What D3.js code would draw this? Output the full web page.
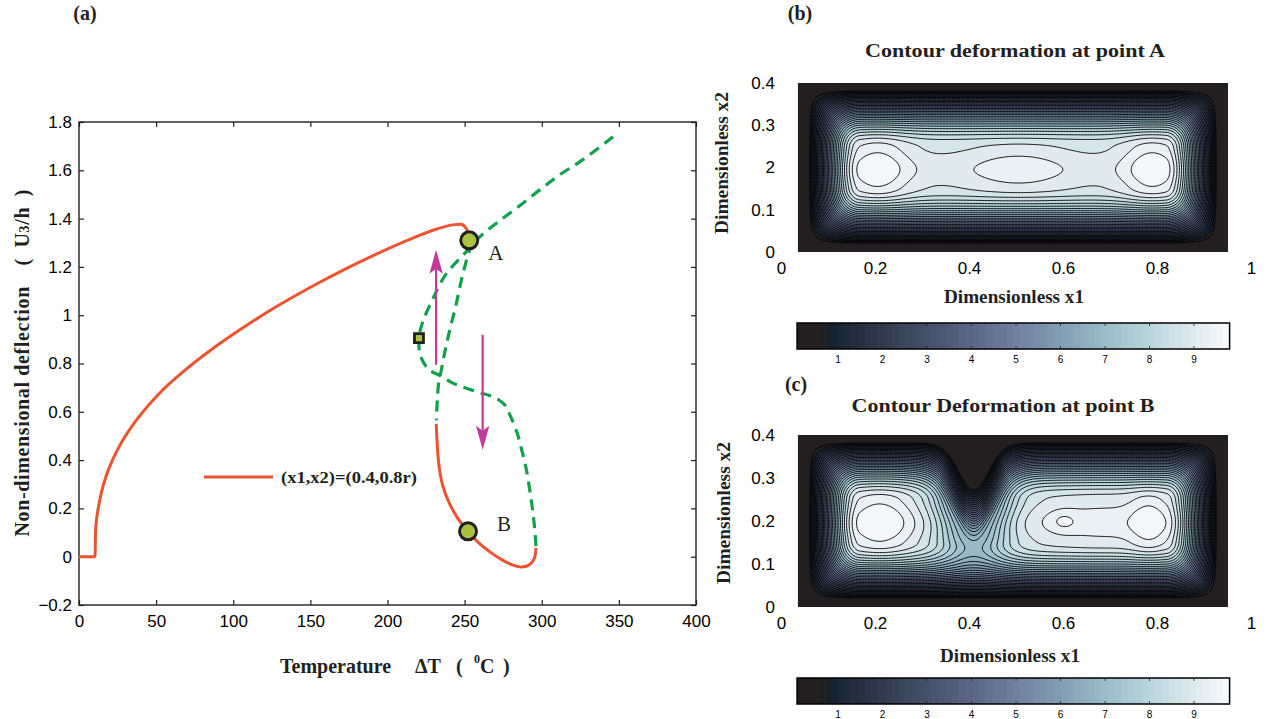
<!DOCTYPE html>
<html>
<head>
<meta charset="utf-8">
<script src="https://cdn.jsdelivr.net/npm/d3@7"></script>
<style>
  body { margin: 0; background: #fff; }
</style>
</head>
<body>
<svg id="fig" width="1269" height="719"></svg>
<script>
// ---------- data ----------

// panel (a) axes
var tempTicks = [0, 50, 100, 150, 200, 250, 300, 350, 400];
var deflTicks = [-0.2, 0, 0.2, 0.4, 0.6, 0.8, 1, 1.2, 1.4, 1.6, 1.8];
var deflTickText = ["\u22120.2", "0", "0.2", "0.4", "0.6", "0.8", "1", "1.2", "1.4", "1.6", "1.8"];

// stable branches [deltaT, U3/h]
var redUpper = [[0, 0], [10.4, 0], [10.7, 0.1], [11.4, 0.155], [12.6, 0.205], [14.5, 0.265],
  [17.5, 0.332], [21.5, 0.397], [26, 0.455], [36.7, 0.561], [51.9, 0.675], [69.2, 0.775],
  [86.4, 0.86], [108, 0.955], [129.7, 1.042], [151.3, 1.12], [172.9, 1.192], [194.5, 1.258],
  [216, 1.318], [232, 1.357], [242, 1.374], [247.5, 1.377], [251.2, 1.358], [253, 1.31]];
var redLower = [[231.6, 0.55], [232.4, 0.45], [233.5, 0.37], [236, 0.29], [240, 0.223],
  [245.5, 0.16], [252.2, 0.105], [259, 0.058], [266.4, 0.02], [274, -0.012], [281, -0.034],
  [287, -0.043], [292, -0.033], [295, -0.01], [296.3, 0.037]];

// unstable branches
var greenOuter = [[346.2, 1.739], [326.7, 1.644], [311.8, 1.582], [298.9, 1.52], [284, 1.445],
  [271, 1.383], [260, 1.325], [251, 1.262], [237.7, 1.168], [229.1, 1.064], [222.6, 0.968],
  [220.4, 0.905], [221.5, 0.83], [226.9, 0.774], [233.4, 0.752], [242, 0.72], [250.2, 0.7],
  [259.3, 0.68], [266, 0.668], [272, 0.65], [276.5, 0.625], [279.5, 0.585], [284, 0.513],
  [287.5, 0.43], [290.4, 0.348], [292.6, 0.26], [294.3, 0.182], [295.5, 0.11], [296.3, 0.041]];
var greenInner = [[255, 1.3], [252.8, 1.262], [248.5, 1.161], [244.2, 1.037], [239.9, 0.926],
  [236.6, 0.83], [234.5, 0.761], [233.4, 0.733], [232.3, 0.65], [231.7, 0.565]];

var pointA = [253, 1.31];
var pointB = [252.2, 0.105];
var limitPoint = [220.4, 0.905];
var arrowUp = [[231.5, 0.795], [231.5, 1.271]];
var arrowDown = [[261.7, 0.919], [261.7, 0.443]];

// panels (b) and (c)
var x1Ticks = [0, 0.2, 0.4, 0.6, 0.8, 1];
var x1TickText = ["0", "0.2", "0.4", "0.6", "0.8", "1"];
var x2Ticks = [0, 0.1, 0.2, 0.3, 0.4];
var x2TickTextB = ["0", "0.1", "2", "0.3", "0.4"];
var x2TickTextC = ["0", "0.1", "0.2", "0.3", "0.4"];
var fieldX = [0.036, 0.951];
var fieldY = [0, 0.4];
var levels = [0.5, 0.8, 1.1, 1.4, 1.7, 2.0, 2.3, 2.6, 2.9, 3.2, 3.5, 3.8, 4.1, 4.4, 4.7, 5.0,
  5.3, 5.6, 5.9, 6.2, 6.5, 6.8, 7.1, 7.4, 7.7, 8.0, 8.3, 8.6, 8.9, 9.2, 9.5];
var colorbarTicks = [1, 2, 3, 4, 5, 6, 7, 8, 9];
var colorbarRange = [0.08, 9.8];
var cmapStops = [0, 0.6, 0.8, 1, 2, 3, 4, 5, 6, 7, 8, 9, 9.8];
var cmapColors = ["#231f20", "#231f20", "#15202c", "#1a2634", "#313a4d", "#46506a", "#5b6585",
  "#70809e", "#839db3", "#99bcc8", "#b9d5dc", "#dfeaee", "#f8fafb"];

// deflection shape at A: plateau level plus humps (x1, x2, height, spread x1, spread x2)
var plateauA = 8.75;
var humpsA = [
  { x: 0.5, y: 0.195, a: 0.25, sx: 9, sy: 0.04 },
  { x: 0.205, y: 0.195, a: 0.8, sx: 0.07, sy: 0.09 },
  { x: 0.505, y: 0.195, a: 0.42, sx: 0.11, sy: 0.06 },
  { x: 0.79, y: 0.195, a: 0.8, sx: 0.065, sy: 0.09 }
];
// deflection shape at B: same kind, plus the notch coming down from the top edge at x1 = 0.41
var plateauB = 8.75;
var humpsB = [
  { x: 0.5, y: 0.195, a: 0.25, sx: 9, sy: 0.04 },
  { x: 0.21, y: 0.197, a: 0.85, sx: 0.075, sy: 0.09 },
  { x: 0.69, y: 0.2, a: 0.38, sx: 0.17, sy: 0.08 },
  { x: 0.6, y: 0.2, a: 0.3, sx: 0.03, sy: 0.025 },
  { x: 0.785, y: 0.195, a: 0.55, sx: 0.042, sy: 0.08 }
];
var notchB = { x: 0.41, depth: 0.105, w: 0.045, k: 0.6, wx: 0.07, y: 0.4, sy: 0.25 };

// ---------- drawing ----------
var svg = d3.select("#fig");
var serif = "'Liberation Serif', 'DejaVu Serif', serif";
var sans = "'Liberation Sans', Arial, sans-serif";
var ink = "#231f20";

var cmap = d3.scaleLinear().domain(cmapStops).range(cmapColors);

// panel (a)
var xA = d3.scaleLinear().domain([0, 400]).range([79, 696]);
var yA = d3.scaleLinear().domain([-0.2, 1.8]).range([605, 122]);

var gA = svg.append("g");

function styleAxis(g, size) {
  g.attr("font-family", sans).attr("font-size", size);
  g.select(".domain").remove();
  g.selectAll(".tick line").attr("stroke", ink).attr("stroke-width", 1.2);
  g.selectAll(".tick text").attr("fill", "#000");
}

gA.append("g").attr("transform", "translate(0," + yA(-0.2) + ")")
  .call(d3.axisBottom(xA).tickValues(tempTicks).tickSizeInner(-5).tickSizeOuter(0)
    .tickPadding(10).tickFormat(d3.format("d")))
  .call(styleAxis, 17);
gA.append("g").attr("transform", "translate(0," + yA(1.8) + ")")
  .call(d3.axisTop(xA).tickValues(tempTicks).tickSizeInner(-5).tickSizeOuter(0).tickFormat(""))
  .call(styleAxis, 17);
gA.append("g").attr("transform", "translate(" + xA(0) + ",0)")
  .call(d3.axisLeft(yA).tickValues(deflTicks).tickSizeInner(-5).tickSizeOuter(0)
    .tickPadding(7).tickFormat(function (d, i) { return deflTickText[i]; }))
  .call(styleAxis, 17);
gA.append("g").attr("transform", "translate(" + xA(400) + ",0)")
  .call(d3.axisRight(yA).tickValues(deflTicks).tickSizeInner(-5).tickSizeOuter(0).tickFormat(""))
  .call(styleAxis, 17);

gA.append("rect")
  .attr("x", xA(0)).attr("y", yA(1.8))
  .attr("width", xA(400) - xA(0)).attr("height", yA(-0.2) - yA(1.8))
  .attr("fill", "none").attr("stroke", ink).attr("stroke-width", 1.4);

var lineA = d3.line()
  .x(function (d) { return xA(d[0]); })
  .y(function (d) { return yA(d[1]); })
  .curve(d3.curveCatmullRom.alpha(0.5));
var lineMono = d3.line()
  .x(function (d) { return xA(d[0]); })
  .y(function (d) { return yA(d[1]); })
  .curve(d3.curveMonotoneX);

var red = "#ea5430", green = "#12a04c", magenta = "#c1399b", lime = "#a9c23f";

gA.append("path").attr("d", lineMono(redUpper))
  .attr("fill", "none").attr("stroke", red).attr("stroke-width", 3);
gA.append("path").attr("d", lineA(redLower))
  .attr("fill", "none").attr("stroke", red).attr("stroke-width", 3);
[greenOuter, greenInner].forEach(function (pts) {
  gA.append("path").attr("d", lineA(pts))
    .attr("fill", "none").attr("stroke", green).attr("stroke-width", 3.2)
    .attr("stroke-dasharray", "11,7");
});

// arrows
function drawArrow(pts) {
  var x0 = xA(pts[0][0]), y0 = yA(pts[0][1]), x1 = xA(pts[1][0]), y1 = yA(pts[1][1]);
  var dir = y1 > y0 ? 1 : -1;
  var L = 24, W = 6.7, notch = 5;
  gA.append("line").attr("x1", x0).attr("y1", y0).attr("x2", x1).attr("y2", y1 - dir * (L - notch))
    .attr("stroke", magenta).attr("stroke-width", 2.2);
  gA.append("path")
    .attr("d", "M" + x1 + "," + y1 + "L" + (x1 - W) + "," + (y1 - dir * L) + "L" + x1 + "," +
      (y1 - dir * (L - notch)) + "L" + (x1 + W) + "," + (y1 - dir * L) + "Z")
    .attr("fill", magenta);
}
drawArrow(arrowUp);
drawArrow(arrowDown);

// markers
[pointA, pointB].forEach(function (p) {
  gA.append("circle").attr("cx", xA(p[0])).attr("cy", yA(p[1])).attr("r", 8.5)
    .attr("fill", lime).attr("stroke", ink).attr("stroke-width", 3);
});
gA.append("rect")
  .attr("x", xA(limitPoint[0]) - 4.5).attr("y", yA(limitPoint[1]) - 4.5)
  .attr("width", 9).attr("height", 9)
  .attr("fill", lime).attr("stroke", ink).attr("stroke-width", 2.8);

gA.append("text").attr("x", xA(pointA[0]) + 19).attr("y", yA(pointA[1]) + 20)
  .attr("font-family", serif).attr("font-size", 21).attr("fill", ink).text("A");
gA.append("text").attr("x", xA(pointB[0]) + 29).attr("y", yA(pointB[1]) + 0)
  .attr("font-family", serif).attr("font-size", 21).attr("fill", ink).text("B");

// legend
gA.append("line").attr("x1", 204).attr("x2", 273).attr("y1", 477).attr("y2", 477)
  .attr("stroke", red).attr("stroke-width", 3.2);
gA.append("text").attr("x", 281).attr("y", 483)
  .attr("font-family", serif).attr("font-weight", "bold").attr("font-size", 17).attr("fill", ink)
  .attr("textLength", 136).attr("lengthAdjust", "spacingAndGlyphs")
  .text("(x1,x2)=(0.4,0.8r)");

// axis titles
var xt = gA.append("text").attr("y", 673)
  .attr("font-family", serif).attr("font-weight", "bold").attr("font-size", 20).attr("fill", ink);
xt.append("tspan").attr("x", 280).text("Temperature");
xt.append("tspan").attr("x", 415).text("\u0394T");
xt.append("tspan").attr("x", 456).text("(");
xt.append("tspan").attr("x", 474).attr("dy", -10).attr("font-size", 12).text("0");
xt.append("tspan").attr("x", 480).attr("dy", 10).text("C");
xt.append("tspan").attr("x", 503).text(")");

var yt = gA.append("text").attr("transform", "translate(29,363) rotate(-90)")
  .attr("text-anchor", "middle")
  .attr("font-family", serif).attr("font-weight", "bold").attr("font-size", 20).attr("fill", ink)
  .attr("textLength", 347).attr("lengthAdjust", "spacing");
yt.append("tspan").text("Non-dimensional deflection\u2003(\u2002U");
yt.append("tspan").attr("font-size", 14).text("3");
yt.append("tspan").text("/h\u2002)");

svg.append("text").attr("x", 85).attr("y", 20).attr("text-anchor", "middle")
  .attr("font-family", serif).attr("font-weight", "bold").attr("font-size", 20).attr("fill", ink)
  .text("(a)");

// ---------- contour panels ----------
function edgeRamp(d, d0, d1) {
  if (d <= d0) return 0;
  if (d >= d1) return 1;
  return Math.sin(Math.PI / 2 * (d - d0) / (d1 - d0));
}

function contourPanel(g, xS, yS, plateau, humps, notch) {
  var boxL = xS(fieldX[0]), boxR = xS(fieldX[1]);
  var boxT = yS(fieldY[1]), boxB = yS(fieldY[0]);
  var nx = 287, ny = 115;
  var cw = (boxR - boxL) / nx, ch = (boxB - boxT) / ny;
  var pxPerX2 = (boxB - boxT) / (fieldY[1] - fieldY[0]);
  var values = new Array(nx * ny);

  for (var j = 0; j < ny; j++) {
    for (var i = 0; i < nx; i++) {
      var px = boxL + (i + 0.5) * cw, py = boxT + (j + 0.5) * ch;
      var x1 = xS.invert(px), x2 = yS.invert(py);
      var dL = px - boxL, dR = boxR - px, dT = py - boxT, dB = boxB - py;
      var fac = 1;
      if (notch) {
        dT -= notch.depth * pxPerX2 * Math.exp(-Math.pow((x1 - notch.x) / notch.w, 2));
        fac = 1 - notch.k * Math.exp(-Math.pow((x1 - notch.x) / notch.wx, 2) -
          Math.pow((x2 - notch.y) / notch.sy, 2));
      }
      var env = edgeRamp(dL, 10, 62) * edgeRamp(dR, 10, 62) * edgeRamp(dT, 6, 64) * edgeRamp(dB, 7, 64);
      var h = plateau;
      humps.forEach(function (p) {
        h += p.a * Math.exp(-Math.pow((x1 - p.x) / p.sx, 2) - Math.pow((x2 - p.y) / p.sy, 2));
      });
      values[j * nx + i] = env * h * fac;
    }
  }

  var contours = d3.contours().size([nx, ny]).thresholds(levels)(values);
  var proj = d3.geoTransform({
    point: function (x, y) { this.stream.point(boxL + x * cw, boxT + y * ch); }
  });
  var path = d3.geoPath(proj);

  g.append("rect").attr("x", boxL).attr("y", boxT)
    .attr("width", boxR - boxL).attr("height", boxB - boxT).attr("fill", ink);
  g.selectAll("path.band").data(contours).join("path")
    .attr("class", "band")
    .attr("d", path)
    .attr("fill", function (d) { return cmap(d.value + 0.15); })
    .attr("stroke", "#000").attr("stroke-width", 0.9);

  // tick labels only, no tick marks
  g.append("g").attr("transform", "translate(0," + (boxB + 10) + ")")
    .call(d3.axisBottom(xS).tickValues(x1Ticks).tickSize(0).tickPadding(0)
      .tickFormat(function (d, i) { return x1TickText[i]; }))
    .call(styleAxis, 17);
}

function yLabels(g, xS, yS, texts) {
  g.append("g").attr("transform", "translate(" + (xS(0) - 6) + ",0)")
    .call(d3.axisLeft(yS).tickValues(x2Ticks).tickSize(0).tickPadding(0)
      .tickFormat(function (d, i) { return texts[i]; }))
    .call(styleAxis, 17);
}

function colorbar(g, top) {
  var cb = d3.scaleLinear().domain([0, 9.8]).range([793.5, 1229.6]);
  var h = 26;
  var n = 64;
  var step = (colorbarRange[1] - colorbarRange[0]) / n;
  var bins = d3.range(n).map(function (k) { return colorbarRange[0] + k * step; });
  g.selectAll("rect.cb").data(bins).join("rect").attr("class", "cb")
    .attr("x", function (d) { return cb(d); })
    .attr("width", function (d) { return cb(d + step) - cb(d) + 0.6; })
    .attr("y", top).attr("height", h)
    .attr("fill", function (d) { return cmap(d + step / 2); });
  g.append("rect").attr("x", cb(colorbarRange[0])).attr("y", top)
    .attr("width", cb(colorbarRange[1]) - cb(colorbarRange[0])).attr("height", h)
    .attr("fill", "none").attr("stroke", "#000").attr("stroke-width", 1.5);
  g.selectAll("line.cbt").data(colorbarTicks).join("line").attr("class", "cbt")
    .attr("x1", function (d) { return cb(d); }).attr("x2", function (d) { return cb(d); })
    .attr("y1", top).attr("y2", top + 3).attr("stroke", "#222").attr("stroke-width", 0.8);
  g.selectAll("line.cbb").data(colorbarTicks).join("line").attr("class", "cbb")
    .attr("x1", function (d) { return cb(d); }).attr("x2", function (d) { return cb(d); })
    .attr("y1", top + h - 3).attr("y2", top + h).attr("stroke", "#222").attr("stroke-width", 0.8);
  g.selectAll("text.cbl").data(colorbarTicks).join("text").attr("class", "cbl")
    .attr("x", function (d) { return cb(d); }).attr("y", top + h + 14)
    .attr("text-anchor", "middle").attr("font-family", sans).attr("font-size", 10)
    .text(function (d) { return d; });
}

function panelText(x, y, txt, size, len, rotate) {
  var t = svg.append("text")
    .attr("font-family", serif).attr("font-weight", "bold").attr("font-size", size)
    .attr("fill", ink).attr("text-anchor", "middle").text(txt);
  if (len) t.attr("textLength", len).attr("lengthAdjust", "spacingAndGlyphs");
  if (rotate) t.attr("transform", "translate(" + x + "," + y + ") rotate(-90)");
  else t.attr("x", x).attr("y", y);
}

// panel (b)
var xB = d3.scaleLinear().domain([0, 1]).range([781, 1251]);
var yB = d3.scaleLinear().domain([0, 0.4]).range([252, 83]);
var gB = svg.append("g");
contourPanel(gB, xB, yB, plateauA, humpsA, null);
yLabels(gB, xB, yB, x2TickTextB);
colorbar(gB, 323);
panelText(800, 20, "(b)", 20);
panelText(1015, 57, "Contour deformation at point A", 18, 300);
panelText(1014, 303, "Dimensionless x1", 18, 140);
panelText(728, 163, "Dimensionless x2", 18, 142, true);

// panel (c)
var yC = d3.scaleLinear().domain([0, 0.4]).range([607, 435]);
var gC = svg.append("g");
contourPanel(gC, xB, yC, plateauB, humpsB, notchB);
yLabels(gC, xB, yC, x2TickTextC);
colorbar(gC, 678);
panelText(796, 391, "(c)", 20);
panelText(1003, 412, "Contour Deformation at point B", 18, 303);
panelText(1010, 662, "Dimensionless x1", 18, 140);
panelText(730, 513, "Dimensionless x2", 18, 142, true);
</script>
</body>
</html>
